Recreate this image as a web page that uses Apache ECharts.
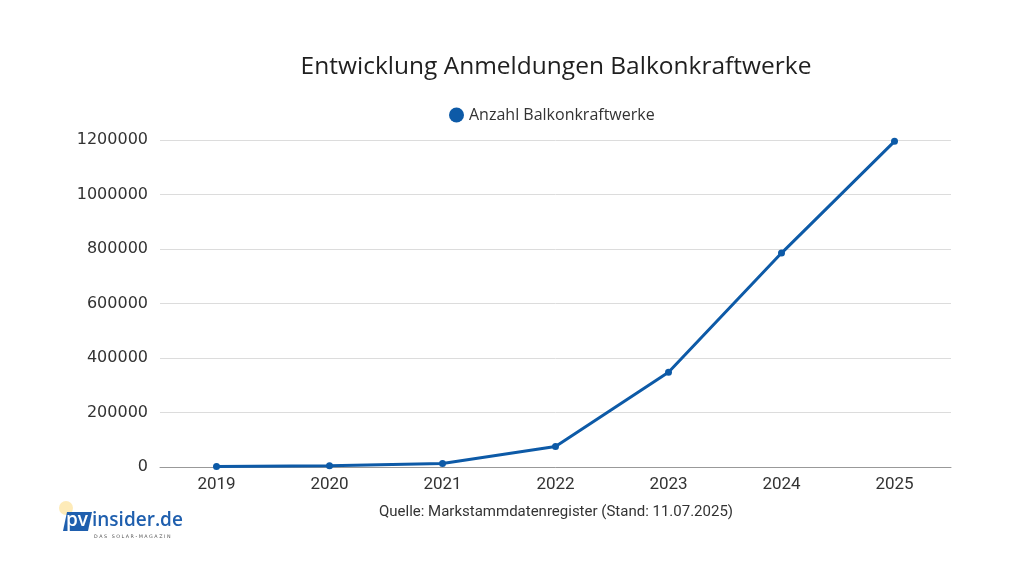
<!DOCTYPE html>
<html>
<head>
<meta charset="utf-8">
<script src="https://cdn.jsdelivr.net/npm/echarts@6/dist/echarts.min.js"></script>
<style>
html,body{margin:0;padding:0;background:#fff;}
#chart{width:1024px;height:576px;}
</style>
</head>
<body>
<div id="chart"></div>
<script>
const categories = ['2019','2020','2021','2022','2023','2024','2025'];
const values = [1500, 5000, 13000, 75000, 348000, 785000, 1195000];
const yTicks = [0, 200000, 400000, 600000, 800000, 1000000, 1200000];
const seriesName = 'Anzahl Balkonkraftwerke';
const titleText = 'Entwicklung Anmeldungen Balkonkraftwerke';
const sourceText = 'Quelle: Markstammdatenregister (Stand: 11.07.2025)';

const chart = echarts.init(document.getElementById('chart'));
const blue = '#0d5aa7';
chart.setOption({
  backgroundColor: '#fff',
  animation: false,
  title: {
    text: titleText,
    left: 551, top: 50, textAlign: 'center',
    textStyle: {fontFamily: 'Open Sans', fontSize: 24.5, fontWeight: 'normal', color: '#1f1f1f'}
  },
  legend: {
    data: [seriesName],
    top: 102, left: 444,
    icon: 'circle', itemWidth: 15, itemHeight: 15, itemGap: 9,
    textStyle: {fontFamily: 'Open Sans', fontSize: 16, color: '#333'}
  },
  grid: {left: 160, right: 73, top: 140, bottom: 109, containLabel: false},
  xAxis: {
    type: 'category', data: categories, boundaryGap: true,
    axisLine: {lineStyle: {color: '#999', width: 1}},
    axisTick: {show: false},
    axisLabel: {fontFamily: 'Roboto', fontSize: 17, color: '#333', margin: 9}
  },
  yAxis: {
    type: 'value', min: yTicks[0], max: yTicks[yTicks.length - 1], interval: yTicks[1] - yTicks[0],
    axisLine: {show: false}, axisTick: {show: false},
    splitLine: {lineStyle: {color: '#dcdcdc', width: 1}},
    axisLabel: {fontFamily: 'DejaVu Sans', fontSize: 16, color: '#333', margin: 12,
      formatter: function (v) { return String(v); }}
  },
  series: [{
    name: seriesName, type: 'line', data: values,
    itemStyle: {color: blue},
    lineStyle: {color: blue, width: 3},
    symbol: 'circle', symbolSize: 7
  }],
  graphic: [
    {type: 'text', x: 556, y: 512,
     style: {text: sourceText, fontFamily: 'Roboto', fontSize: 15, fill: '#333', align: 'center', verticalAlign: 'middle'}},
    {type: 'group', x: 58, y: 502, children: [
      {type: 'circle', shape: {cx: 8, cy: 6, r: 7}, style: {fill: '#fde39a', opacity: 0.7}},
      {type: 'polygon', shape: {points: [[9,10],[34,10],[30,29],[5,29]]}, style: {fill: '#1f5fae'}},
      {type: 'text', x: 19, y: 19, style: {text: 'pv', fontFamily: 'Open Sans', fontSize: 19, fontWeight: 600, fill: '#fff', align: 'center', verticalAlign: 'middle'}},
      {type: 'text', x: 34, y: 19, style: {text: 'insider.de', fontFamily: 'Open Sans', fontSize: 19, fontWeight: 600, fill: '#1f5fae', verticalAlign: 'middle'}},
      {type: 'text', x: 36, y: 32, style: {text: 'D A S   S O L A R - M A G A Z I N', fontFamily: 'DejaVu Sans', fontSize: 4.8, fill: '#555'}}
    ]}
  ]
});
</script>
</body>
</html>
